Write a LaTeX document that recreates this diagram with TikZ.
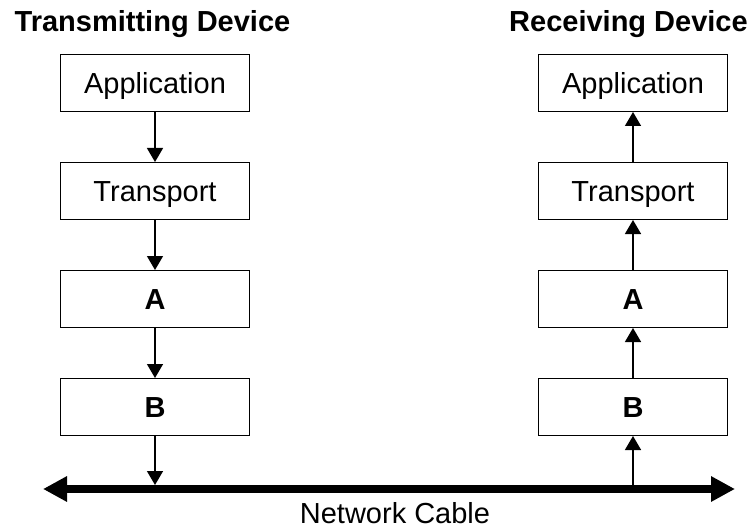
\documentclass[tikz,border=0pt]{standalone}
\usepackage{fontspec}
\setmainfont{Liberation Sans}
\usetikzlibrary{arrows.meta,positioning}

\begin{document}
\begin{tikzpicture}[x=0.75pt,y=-0.75pt,node distance=37.5pt,
    every node/.style={font=\fontsize{21.75}{26}\selectfont},
    layer/.style={draw,line width=1.1pt,minimum width=141.4pt,minimum height=42.4pt,
                  inner sep=0pt,text height=15.5pt,text depth=0pt},
    flow/.style={line width=1.1pt,-{Triangle[length=10.5pt,width=12pt]}},
    cable/.style={line width=6pt,{Triangle[length=18pt,width=18pt]}-{Triangle[length=18pt,width=18pt]}}]
\useasboundingbox (0,0) rectangle (753,531);

\node[anchor=base] (txTitle) at (152.5,32) {\bfseries Transmitting Device};
\node[anchor=base] (rxTitle) at (628.5,32) {\bfseries Receiving Device};

% sending side
\node[layer] (appL) at (155,83) {Application};
\node[layer,below=of appL] (trL) {Transport};
\node[layer,below=of trL] (aL) {\bfseries A};
\node[layer,below=of aL] (bL) {\bfseries B};

% receiving side
\node[layer] (appR) at (633,83) {Application};
\node[layer,below=of appR] (trR) {Transport};
\node[layer,below=of trR] (aR) {\bfseries A};
\node[layer,below=of aR] (bR) {\bfseries B};

% the wire
\coordinate (cabL) at (43,489);
\coordinate (cabR) at (735,489);
\draw[cable] (cabL) -- (cabR);
\node[anchor=base] (cabText) at (395,523) {Network Cable};

\draw[flow] (appL) -- (trL);
\draw[flow] (trL) -- (aL);
\draw[flow] (aL) -- (bL);
\draw[flow] (bL) -- ([yshift=3pt]bL |- cabL);

\draw[flow] (bR |- cabR) -- (bR);
\draw[flow] (bR) -- (aR);
\draw[flow] (aR) -- (trR);
\draw[flow] (trR) -- (appR);
\end{tikzpicture}
\end{document}
